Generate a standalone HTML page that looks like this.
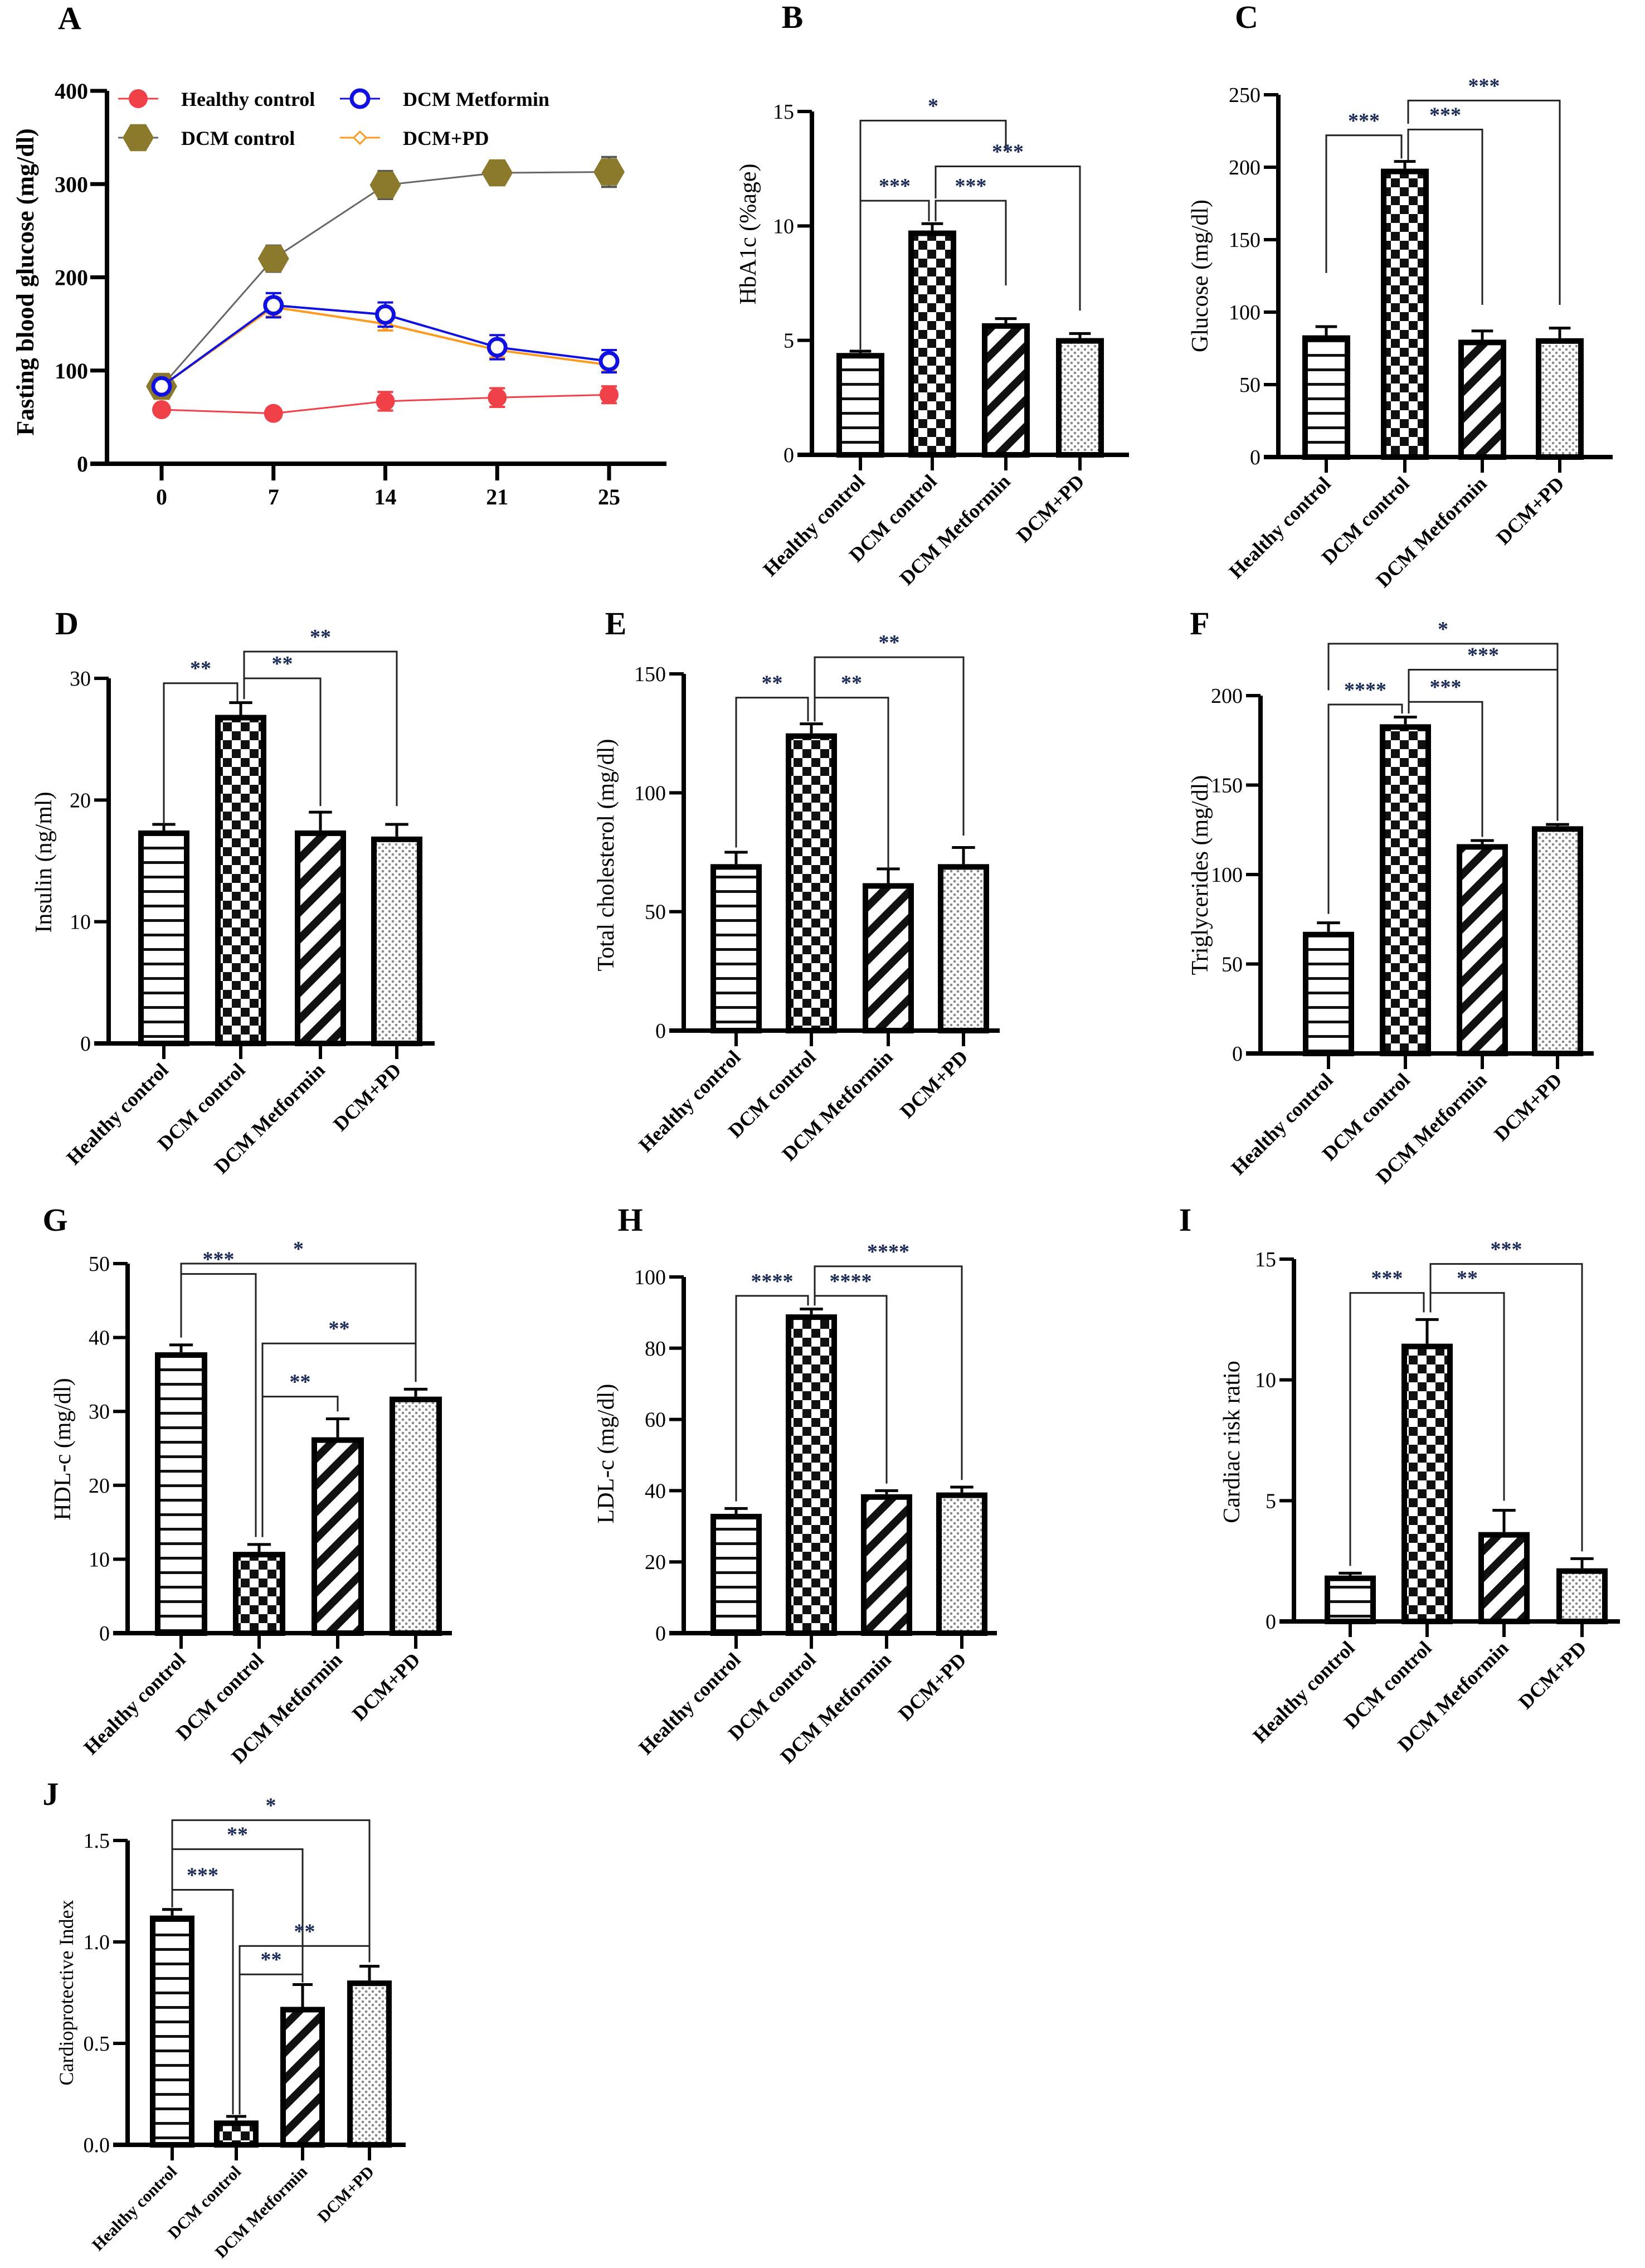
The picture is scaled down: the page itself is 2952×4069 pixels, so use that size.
<!DOCTYPE html>
<html><head><meta charset="utf-8"><style>
html,body{margin:0;padding:0;background:#fff;}
svg{display:block;}
text{font-family:"Liberation Serif",serif;}
</style></head><body>
<svg id="fig" width="2952" height="4069" viewBox="0 0 2952 4069" xmlns="http://www.w3.org/2000/svg">
<defs>
<pattern id="pHoriz" patternUnits="userSpaceOnUse" width="26" height="26"><rect width="26" height="26" fill="#fff"/><rect y="11" width="26" height="5" fill="#111"/></pattern>
<pattern id="pCheck" patternUnits="userSpaceOnUse" width="32" height="32"><rect width="32" height="32" fill="#fff"/><rect width="16" height="16" fill="#111"/><rect x="16" y="16" width="16" height="16" fill="#111"/></pattern>
<pattern id="pDiag" patternUnits="userSpaceOnUse" width="34" height="34" patternTransform="rotate(45)"><rect width="34" height="34" fill="#fff"/><rect width="14" height="34" fill="#111"/></pattern>
<pattern id="pDots" patternUnits="userSpaceOnUse" width="12" height="12"><rect width="12" height="12" fill="#fff"/><circle cx="3" cy="3" r="2.3" fill="#888"/><circle cx="9" cy="9" r="2.3" fill="#888"/></pattern>
</defs>
<g id="root"></g>
</svg>
<script>
// ---------- Panel A data ----------
const aDays = [0, 7, 14, 21, 25];
const aDayLabels = ["0", "7", "14", "21", "25"];
const aTicks = [0, 100, 200, 300, 400];
const aHealthy = [58, 54, 67, 71, 74];
const aHealthyErr = [4, 3, 10, 10, 9];
const aDcm = [83, 220, 299, 312, 313];
const aDcmErr = [5, 14, 15, 10, 16];
const aMet = [83, 170, 160, 125, 110];
const aMetErr = [5, 13, 13, 13, 12];
const aPd = [83, 168, 150, 122, 106];
const aPdErr = [4, 10, 7, 8, 7];

// ---------- Bar chart data ----------
const groups = ["Healthy control", "DCM control", "DCM Metformin", "DCM+PD"];
const bVals = [4.45, 9.8, 5.75, 5.1];   const bErr = [0.08, 0.3, 0.2, 0.2];   const bTicks = [0, 5, 10, 15];
const cVals = [84, 199, 81, 82];        const cErr = [6, 5, 6, 7];            const cTicks = [0, 50, 100, 150, 200, 250];
const dVals = [17.5, 27, 17.5, 17];     const dErr = [0.5, 1, 1.5, 1];        const dTicks = [0, 10, 20, 30];
const eVals = [70, 125, 62, 70];        const eErr = [5, 4, 6, 7];            const eTicks = [0, 50, 100, 150];
const fVals = [68, 184, 117, 127];      const fErr = [5, 4, 2, 1];            const fTicks = [0, 50, 100, 150, 200];
const gVals = [38, 11, 26.5, 32];       const gErr = [1, 1, 2.5, 1];          const gTicks = [0, 10, 20, 30, 40, 50];
const hVals = [33.5, 89.5, 39, 39.5];   const hErr = [1.5, 1.5, 1, 1.5];      const hTicks = [0, 20, 40, 60, 80, 100];
const iVals = [1.9, 11.5, 3.7, 2.2];    const iErr = [0.1, 1, 0.9, 0.4];      const iTicks = [0, 5, 10, 15];
const jVals = [1.13, 0.12, 0.68, 0.81]; const jErr = [0.03, 0.02, 0.11, 0.07]; const jTicks = [0, 0.5, 1.0, 1.5];
const jTickLabels = ["0.0", "0.5", "1.0", "1.5"];
// brackets: [from, to, level, label, leftLegBottom, rightLegBottom]
const bSig = [[0,2,14.6,"*",10,13.3],[1,3,12.6,"***",11.2,6.3],[0,1,11.1,"***",4.6,10.2],[1,2,11.1,"***",10.2,7.4]];
const cSig = [[0,1,222,"***",127,206],[1,2,226,"***",205,105],[1,3,246,"***",230,105]];
const dSig = [[0,1,29.6,"**",17.9,28.1],[1,2,30.0,"**",28.3,19.5],[1,3,32.2,"**",28.3,19.5]];
const eSig = [[0,1,140,"**",77,130],[1,2,140,"**",130,68],[1,3,157,"**",132,82]];
const fSig = [[0,3,229,"*",203,133],[0,1,195,"****",78,190],[1,2,196.5,"***",190,121],[1,3,214.5,"***",192,130]];
const gSig = [[0,3,50,"*",40,34],[0,1,48.6,"***",40,13],[1,3,39.2,"**",13,34],[1,2,32,"**",13,30]];
const hSig = [[0,1,94.7,"****",37,92],[1,2,94.7,"****",92,42],[1,3,103,"****",92,43]];
const iSig = [[0,1,13.6,"***",2.3,12.8],[1,2,13.6,"**",12.8,5],[1,3,14.8,"***",12.8,2.9]];
const jSig = [[0,3,1.6,"*",1.2,0.9],[0,2,1.457,"**",1.2,0.82],[0,1,1.257,"***",1.17,0.15],[1,3,0.98,"**",0.15,0.9],[1,2,0.84,"**",0.15,0.8]];

const NS = "http://www.w3.org/2000/svg";
const root = document.getElementById("root");
function mk(tag, attrs, parent, txt) {
  const e = document.createElementNS(NS, tag);
  for (const k in attrs) e.setAttribute(k, attrs[k]);
  if (txt !== undefined) e.textContent = txt;
  (parent || root).appendChild(e);
  return e;
}

// ---------- Panel A ----------
(function () {
  const g = mk("g", {});
  
  
  const x0 = 192, yTop = 163, yBot = 832, xEnd = 1196;
  const xs = i => 290 + i / (aDays.length - 1) * (1093 - 290);
  const ys = v => yBot - v / 400 * (yBot - yTop);
  const lab = mk("text", {x: 125, y: 52, "font-size": 58, "font-weight": "bold", "text-anchor": "middle"}, g, "A");
  
  
  const yl = mk("line", {x1: x0, y1: yTop, x2: x0, y2: yBot + 4, stroke: "#000", "stroke-width": 8}, g);
  
  
  const xl = mk("line", {x1: x0 - 30, y1: yBot, x2: xEnd, y2: yBot, stroke: "#000", "stroke-width": 8}, g);
  
  
  aTicks.forEach(t => {
    mk("line", {x1: x0 - 30, y1: ys(t), x2: x0, y2: ys(t), stroke: "#000", "stroke-width": 7}, g);
    const tl = mk("text", {x: x0 - 34, y: ys(t) + 14, "font-size": 40, "font-weight": "bold", "text-anchor": "end"}, g, String(t));
    
    
  });
  aDays.forEach((d, i) => {
    mk("line", {x1: xs(i), y1: yBot, x2: xs(i), y2: yBot + 30, stroke: "#000", "stroke-width": 7}, g);
    const tl = mk("text", {x: xs(i), y: 905, "font-size": 40, "font-weight": "bold", "text-anchor": "middle"}, g, aDayLabels[i]);
    
    
  });
  const yt = mk("text", {x: 46, y: 506, "font-size": 44, "font-weight": "bold", "text-anchor": "middle", transform: "rotate(-90 46 506)", dy: 14}, g, "Fasting blood glucose (mg/dl)");
  
  

  function hexPts(cx, cy, r) {
    let p = [];
    for (let k = 0; k < 6; k++) { const a = Math.PI / 3 * k; p.push((cx + r * Math.cos(a)) + "," + (cy + r * Math.sin(a))); }
    return p.join(" ");
  }
  function marker(kind, cx, cy, parent) {
    if (kind === "healthy") return mk("circle", {cx, cy, r: 17, fill: "#f04048"}, parent);
    if (kind === "dcm") return mk("polygon", {points: hexPts(cx, cy, 28), fill: "#8c7a2c"}, parent);
    if (kind === "met") return mk("circle", {cx, cy, r: 15, fill: "#fff", stroke: "#1010e0", "stroke-width": 7}, parent);
    return mk("polygon", {points: `${cx},${cy-11} ${cx+11},${cy} ${cx},${cy+11} ${cx-11},${cy}`, fill: "#fff", stroke: "#ff9a20", "stroke-width": 3}, parent);
  }
  const series = [
    ["healthy", aHealthy, aHealthyErr, "#f04048", 3],
    ["dcm", aDcm, aDcmErr, "#666", 3],
    ["pd", aPd, aPdErr, "#ff9a20", 4],
    ["met", aMet, aMetErr, "#1010e0", 4]
  ];
  const errCol = {healthy: "#f04048", dcm: "#555", pd: "#ff9a20", met: "#1010e0"};
  series.forEach(([kind, vals, errs, col, w]) => {
    const sg = mk("g", {}, g);
    
    
    const pts = vals.map((v, i) => xs(i) + "," + ys(v)).join(" ");
    mk("polyline", {points: pts, fill: "none", stroke: col, "stroke-width": w}, sg);
    vals.forEach((v, i) => {
      const cx = xs(i);
      const e1 = ys(v + errs[i]), e2 = ys(v - errs[i]);
      mk("line", {x1: cx, y1: e1, x2: cx, y2: e2, stroke: errCol[kind], "stroke-width": 4}, sg);
      mk("line", {x1: cx - 14, y1: e1, x2: cx + 14, y2: e1, stroke: errCol[kind], "stroke-width": 4}, sg);
      mk("line", {x1: cx - 14, y1: e2, x2: cx + 14, y2: e2, stroke: errCol[kind], "stroke-width": 4}, sg);
      const m = marker(kind, cx, ys(v), sg);
      
      
    });
  });
  // legend
  const leg = [["healthy", "Healthy control", 248, 177, "#f04048"], ["met", "DCM Metformin", 646, 177, "#1010e0"],
               ["dcm", "DCM control", 248, 247, "#666"], ["pd", "DCM+PD", 646, 247, "#ff9a20"]];
  leg.forEach(([kind, name, mx, my, col]) => {
    const lg = mk("g", {}, g);
    
    
    mk("line", {x1: mx - 36, y1: my, x2: mx + 36, y2: my, stroke: col, "stroke-width": 3}, lg);
    marker(kind, mx, my, lg);
    mk("text", {x: mx + 77, y: my + 13, "font-size": 36, "font-weight": "bold"}, lg, name);
  });
})();

// ---------- Bar panels ----------
const fills = ["url(#pHoriz)", "url(#pCheck)", "url(#pDiag)", "url(#pDots)"];
function barPanel(cfg) {
  const g = mk("g", {});
  
  
  const ys = v => cfg.y0 - v / cfg.max * (cfg.y0 - cfg.yMax);
  const lab = mk("text", {x: cfg.lx, y: cfg.ly, "font-size": 58, "font-weight": "bold", "text-anchor": "middle"}, g, cfg.id.toUpperCase());
  
  
  const half = cfg.bw / 2;
  cfg.vals.forEach((v, i) => {
    const cx = cfg.cx[i];
    const top = ys(v + cfg.err[i]);
    mk("line", {x1: cx, y1: ys(v), x2: cx, y2: top, stroke: "#000", "stroke-width": 5}, g);
    mk("line", {x1: cx - half * 0.45, y1: top, x2: cx + half * 0.45, y2: top, stroke: "#000", "stroke-width": 5}, g);
    const r = mk("rect", {x: cx - half + 5, y: ys(v) + 5, width: cfg.bw - 10, height: cfg.y0 - ys(v) - 5, fill: fills[i], stroke: "#000", "stroke-width": 10}, g);
    
    
  });
  const yl = mk("line", {x1: cfg.ax, y1: cfg.yMax, x2: cfg.ax, y2: cfg.y0 + 4, stroke: "#000", "stroke-width": 8}, g);
  
  
  const xl = mk("line", {x1: cfg.ax - 26, y1: cfg.y0, x2: cfg.xEnd, y2: cfg.y0, stroke: "#000", "stroke-width": 8}, g);
  
  
  cfg.ticks.forEach((t, k) => {
    mk("line", {x1: cfg.ax - 26, y1: ys(t), x2: cfg.ax, y2: ys(t), stroke: "#000", "stroke-width": 6}, g);
    const tl = mk("text", {x: cfg.ax - 32, y: ys(t) + 13, "font-size": 38, "text-anchor": "end"}, g, cfg.tickLabels ? cfg.tickLabels[k] : String(t));
    
    
  });
  groups.forEach((name, i) => {
    const cx = cfg.cx[i];
    mk("line", {x1: cx, y1: cfg.y0, x2: cx, y2: cfg.y0 + 28, stroke: "#000", "stroke-width": 6}, g);
    const ty = cfg.y0 + 50;
    const tl = mk("text", {x: cx + 10, y: ty, "font-size": cfg.cfs || 36, "font-weight": "bold", "text-anchor": "end", transform: `rotate(-45 ${cx + 10} ${ty})`}, g, name);
    
    
  });
  const yt = mk("text", {x: cfg.tx, y: cfg.ty, "font-size": cfg.tfs || 42, "text-anchor": "middle", transform: `rotate(-90 ${cfg.tx} ${cfg.ty})`, dy: 14}, g, cfg.title);
  
  
  cfg.sig.forEach(([a, b, lvl, txt, la, lb]) => {
    const sg = mk("g", {}, g);
    
    
    const xa = cfg.cx[a] + (a === 1 ? 6 : 0), xb = cfg.cx[b] - (b === 1 ? 6 : 0);
    mk("polyline", {points: `${xa},${ys(la)} ${xa},${ys(lvl)} ${xb},${ys(lvl)} ${xb},${ys(lb)}`, fill: "none", stroke: "#222", "stroke-width": 3}, sg);
    mk("text", {x: (xa + xb) / 2, y: ys(lvl) - 14, "font-size": 38, "font-weight": "bold", "text-anchor": "middle", fill: "#1b2a55"}, sg, txt);
  });
}

barPanel({id: "b", vals: bVals, err: bErr, ticks: bTicks, sig: bSig, max: 15, ax: 1457, yMax: 200, y0: 816, xEnd: 2026, cx: [1544, 1673, 1805, 1938], bw: 86, lx: 1422, ly: 50, title: "HbA1c (%age)", tx: 1342, ty: 420});
barPanel({id: "c", vals: cVals, err: cErr, ticks: cTicks, sig: cSig, max: 250, ax: 2294, yMax: 170, y0: 820, xEnd: 2894, cx: [2380, 2521, 2660, 2799], bw: 86, lx: 2237, ly: 50, title: "Glucose (mg/dl)", tx: 2153, ty: 495});
barPanel({id: "d", vals: dVals, err: dErr, ticks: dTicks, sig: dSig, max: 30, ax: 195, yMax: 1217, y0: 1872, xEnd: 780, cx: [294, 432, 575, 712], bw: 92, lx: 120, ly: 1138, title: "Insulin (ng/ml)", tx: 78, ty: 1547});
barPanel({id: "e", vals: eVals, err: eErr, ticks: eTicks, sig: eSig, max: 150, ax: 1227, yMax: 1209, y0: 1849, xEnd: 1794, cx: [1321, 1456, 1594, 1729], bw: 92, lx: 1105, ly: 1138, title: "Total cholesterol (mg/dl)", tx: 1087, ty: 1534});
barPanel({id: "f", vals: fVals, err: fErr, ticks: fTicks, sig: fSig, max: 200, ax: 2262, yMax: 1248, y0: 1890, xEnd: 2860, cx: [2384, 2522, 2660, 2795], bw: 92, lx: 2153, ly: 1138, title: "Triglycerides (mg/dl)", tx: 2153, ty: 1570});
barPanel({id: "g", vals: gVals, err: gErr, ticks: gTicks, sig: gSig, max: 50, ax: 229, yMax: 2267, y0: 2930, xEnd: 811, cx: [325, 465, 606, 746], bw: 94, lx: 99, ly: 2208, title: "HDL-c (mg/dl)", tx: 112, ty: 2600});
barPanel({id: "h", vals: hVals, err: hErr, ticks: hTicks, sig: hSig, max: 100, ax: 1227, yMax: 2291, y0: 2930, xEnd: 1789, cx: [1321, 1456, 1591, 1726], bw: 92, lx: 1131, ly: 2208, title: "LDL-c (mg/dl)", tx: 1087, ty: 2608});
barPanel({id: "i", vals: iVals, err: iErr, ticks: iTicks, sig: iSig, max: 15, ax: 2322, yMax: 2259, y0: 2909, xEnd: 2907, cx: [2423, 2561, 2699, 2839], bw: 92, lx: 2127, ly: 2208, title: "Cardiac risk ratio", tx: 2210, ty: 2587});
barPanel({id: "j", vals: jVals, err: jErr, ticks: jTicks, tickLabels: jTickLabels, sig: jSig, max: 1.5, ax: 229, yMax: 3302, y0: 3848, xEnd: 728, cx: [309, 424, 543, 663], bw: 80, lx: 91, ly: 3238, title: "Cardioprotective Index", tx: 117, ty: 3575, tfs: 36, cfs: 30});
</script>
</body></html>
